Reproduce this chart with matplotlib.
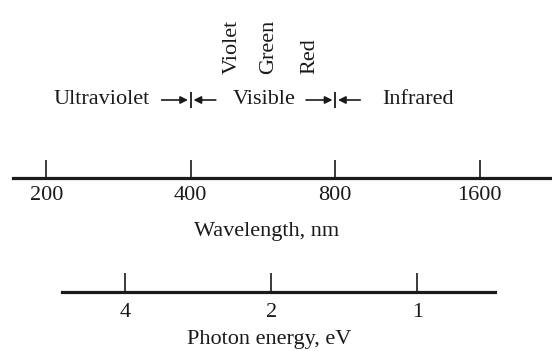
import matplotlib
matplotlib.use("Agg")
import matplotlib.pyplot as plt

plt.rcParams['font.family'] = ['Liberation Serif', 'DejaVu Serif']

# Data
wl_ticks = [200, 400, 800, 1600]
wl_tick_labels = ['200', '400', '800', '1600']
wl_range = [170.5, 2263]
ev_ticks = [4, 2, 1]
ev_tick_labels = ['4', '2', '1']
ev_range = [5.39, 0.692]
boundaries = [400, 800]
region_names = ['Ultraviolet', 'Visible', 'Infrared']
region_pos = [261, 570, 1189]
color_names = ['Violet', 'Green', 'Red']
color_pos = [488, 580, 709]

FS = 16
TC = '#1a1a1a'
W, H = 552, 351
fig = plt.figure(figsize=(W / 100, H / 100), dpi=100)

# Wavelength axis
x0 = 13 / W
ax1 = fig.add_axes([x0, (H - 178) / H, 1 - x0, 0.15])
ax1.set_xscale('log')
ax1.set_xlim(*wl_range)
ax1.set_ylim(0, 1)
ax1.patch.set_alpha(0)
for s in ['top', 'left', 'right']:
    ax1.spines[s].set_visible(False)
ax1.spines['bottom'].set_linewidth(2.3)
ax1.spines['bottom'].set_color(TC)
ax1.set_yticks([])
ax1.set_xticks(wl_ticks)
ax1.set_xticklabels(wl_tick_labels)
ax1.minorticks_off()
ax1.tick_params(axis='x', direction='in', length=13, width=1.2, pad=6,
                labelsize=FS, labelcolor=TC, color=TC)
ax1.set_xlabel('Wavelength, nm', fontsize=FS, color=TC, labelpad=12)
ax1.xaxis.label.set_x(0.471)

# Energy axis
ex0 = 62 / W
ex1 = 495 / W
ax2 = fig.add_axes([ex0, (H - 292) / H, ex1 - ex0, 0.1])
ax2.set_xscale('log')
ax2.set_xlim(*ev_range)
ax2.set_ylim(0, 1)
ax2.patch.set_alpha(0)
for s in ['top', 'left', 'right']:
    ax2.spines[s].set_visible(False)
ax2.spines['bottom'].set_linewidth(2.3)
ax2.spines['bottom'].set_color(TC)
ax2.set_yticks([])
ax2.set_xticks(ev_ticks)
ax2.set_xticklabels(ev_tick_labels)
ax2.minorticks_off()
ax2.tick_params(axis='x', direction='in', length=14, width=1.2, pad=8,
                labelsize=FS, labelcolor=TC, color=TC)
ax2.set_xlabel('Photon energy, eV', fontsize=FS, color=TC, labelpad=6)
ax2.xaxis.label.set_x(0.478)

# Top annotation area, sharing wavelength scale
ax3 = fig.add_axes([x0, 0, 1 - x0, 1])
ax3.set_xscale('log')
ax3.set_xlim(*wl_range)
ax3.set_ylim(0, 1)
ax3.axis('off')

row_y = 1 - 100 / H
for name, xp in zip(region_names, region_pos):
    ax3.text(xp, row_y, name, ha='center', va='center', fontsize=FS, color=TC)

for b in boundaries:
    ax3.plot([b], [row_y], marker='|', markersize=11, mew=1.3, color=TC)
    ax3.annotate('', xy=(b, row_y), xytext=(-21, 0), textcoords='offset points',
                 arrowprops=dict(arrowstyle='-|>', mutation_scale=11, lw=1.2,
                                 color=TC, shrinkA=0, shrinkB=2))
    ax3.annotate('', xy=(b, row_y), xytext=(18, 0), textcoords='offset points',
                 arrowprops=dict(arrowstyle='-|>', mutation_scale=11, lw=1.2,
                                 color=TC, shrinkA=0, shrinkB=2))

col_y = 1 - 74 / H
for name, xp in zip(color_names, color_pos):
    ax3.text(xp, col_y, name, ha='center', va='bottom', rotation=90,
             fontsize=FS, color=TC)

fig.savefig('out.png', dpi=100, facecolor='white')
